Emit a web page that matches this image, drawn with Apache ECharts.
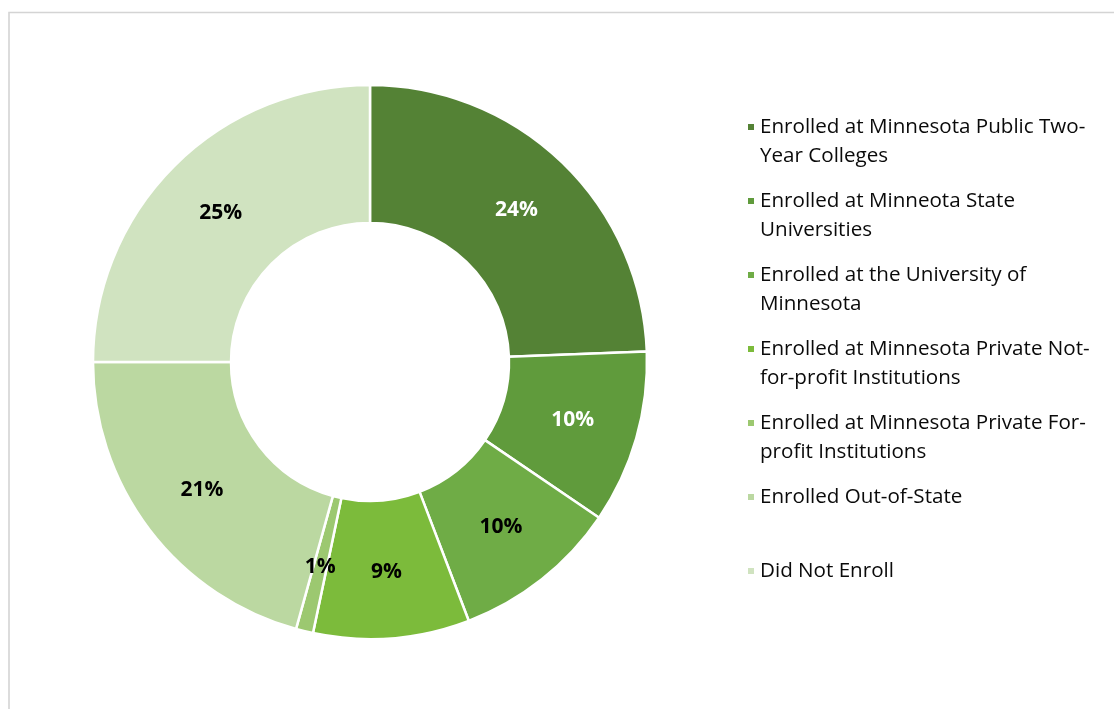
<!DOCTYPE html>
<html>
<head>
<meta charset="utf-8">
<script src="https://cdn.jsdelivr.net/npm/echarts@6/dist/echarts.min.js"></script>
<style>
  html, body { margin: 0; padding: 0; background: #fff; }
  #chart { width: 1114px; height: 709px; }
</style>
</head>
<body>
<div id="chart"></div>
<script>
// Enrollment outcomes (share of graduates, %)
const categories = [
  'Enrolled at Minnesota Public Two-Year Colleges',
  'Enrolled at Minneota State Universities',
  'Enrolled at the University of Minnesota',
  'Enrolled at Minnesota Private Not-for-profit Institutions',
  'Enrolled at Minnesota Private For-profit Institutions',
  'Enrolled Out-of-State',
  'Did Not Enroll'
];
const shares = [24.4, 10.1, 9.7, 9.1, 1.0, 20.7, 25.0];

// Legend text broken over lines
const legendLines = [
  ['Enrolled at Minnesota Public Two-', 'Year Colleges'],
  ['Enrolled at Minneota State', 'Universities'],
  ['Enrolled at the University of', 'Minnesota'],
  ['Enrolled at Minnesota Private Not-', 'for-profit Institutions'],
  ['Enrolled at Minnesota Private For-', 'profit Institutions'],
  ['Enrolled Out-of-State'],
  ['Did Not Enroll']
];

const colors = ['#548235', '#609b3c', '#6fac46', '#7cbb3b', '#9cc870', '#bbd8a1', '#d0e3c0'];
const labelColors = ['#ffffff', '#ffffff', '#000000', '#000000', '#000000', '#000000', '#000000'];

const FONT = '"Open Sans", Lato, sans-serif';
const LINE_H = 29;
const legendFirstLineY = [127, 201, 275, 349, 423, 497, 571];

const chart = echarts.init(document.getElementById('chart'), null, { renderer: 'canvas' });

// One legend per entry so each icon sits beside the first line of its text.
// Two-line entries get a blank leading line so the text block's middle line
// (the first real line) is level with the icon.
const legends = categories.map((name, i) => {
  const lines = legendLines[i];
  const multi = lines.length > 1;
  const textLines = multi ? [' '].concat(lines) : lines;
  const halfBlock = (textLines.length * LINE_H) / 2;
  return {
    orient: 'vertical',
    left: 746,
    top: legendFirstLineY[i] - halfBlock,
    padding: 0,
    itemWidth: 8,
    itemHeight: 8,
    itemGap: 0,
    icon: 'rect',
    selectedMode: false,
    data: [{ name: name, itemStyle: { color: colors[i] } }],
    formatter: () => textLines.join('\n'),
    textStyle: {
      fontFamily: FONT,
      fontSize: 20.6,
      color: '#0a0a0a',
      lineHeight: LINE_H
    }
  };
});

chart.setOption({
  animation: false,
  backgroundColor: '#fff',
  color: colors,
  graphic: [{
    type: 'rect',
    silent: true,
    shape: { x: 9, y: 12.5, width: 1200, height: 800 },
    style: { fill: 'none', stroke: '#d4d4d4', lineWidth: 1.6 }
  }],
  legend: legends,
  series: [{
    type: 'pie',
    center: [370, 362],
    radius: [139, 277],
    startAngle: 90,
    clockwise: true,
    avoidLabelOverlap: false,
    itemStyle: { borderColor: '#ffffff', borderWidth: 2.5 },
    label: {
      show: true,
      position: 'inside',
      fontFamily: FONT,
      fontSize: 21,
      fontWeight: 'bold',
      formatter: p => Math.round(p.value) + '%'
    },
    labelLine: { show: false },
    emphasis: { disabled: true },
    data: categories.map((name, i) => ({
      name: name,
      value: shares[i],
      label: { color: labelColors[i] }
    }))
  }]
});
</script>
</body>
</html>
